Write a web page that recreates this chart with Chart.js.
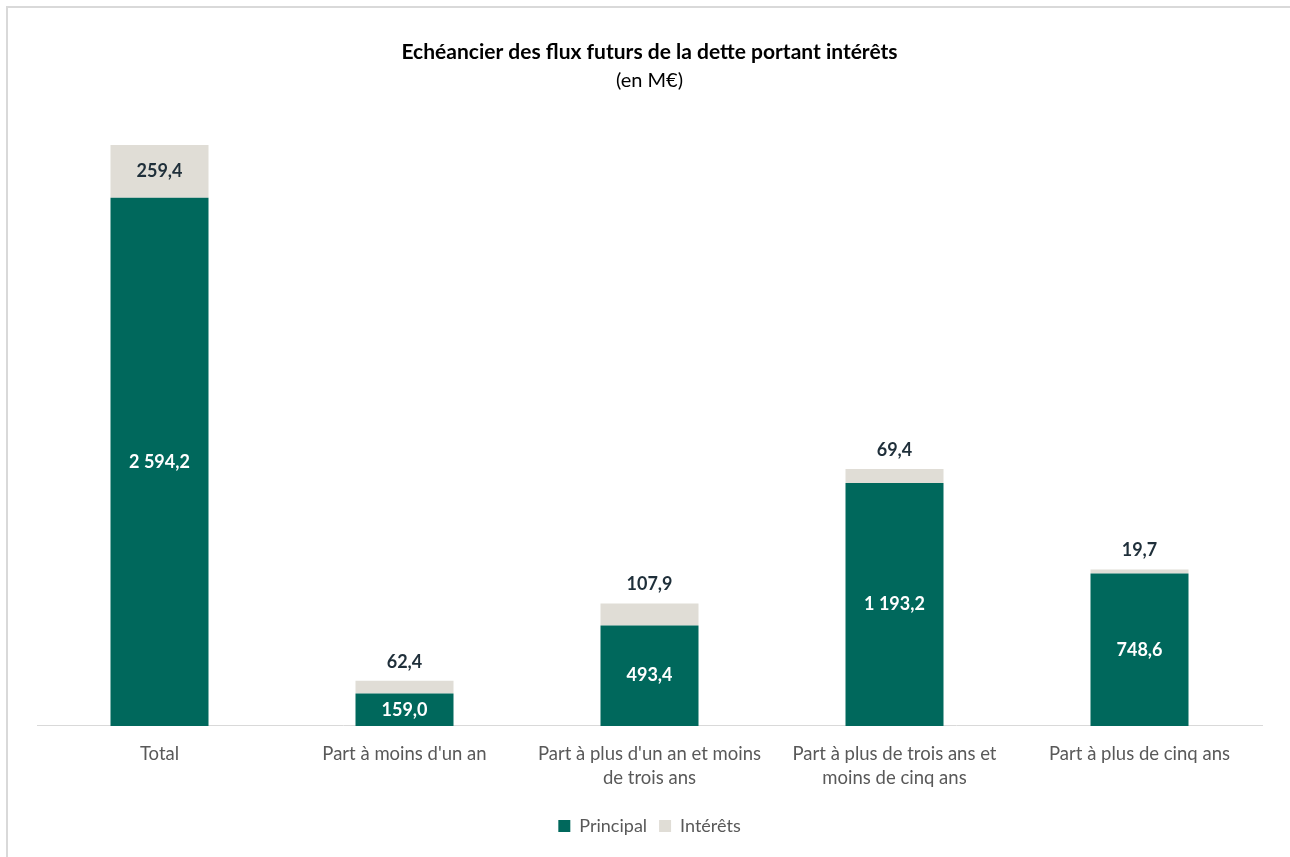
<!DOCTYPE html>
<html>
<head>
<meta charset="utf-8">
<script src="https://cdn.jsdelivr.net/npm/chart.js@4"></script>
<style>
  html, body { margin: 0; padding: 0; background: #fff; }
  #frame {
    position: absolute; left: 6px; top: 6px; width: 1300px; height: 870px;
    border-left: 2px solid #d9d9d9; border-top: 2px solid #d9d9d9;
  }
  #wrap { position: absolute; left: 0; top: 0; width: 1290px; height: 857px; }
</style>
</head>
<body>
<div id="frame"></div>
<div id="wrap"><canvas id="debtChart"></canvas></div>
<script>
// data (M€)
const categories = [
  'Total',
  "Part à moins d'un an",
  ["Part à plus d'un an et moins", 'de trois ans'],
  ['Part à plus de trois ans et', 'moins de cinq ans'],
  'Part à plus de cinq ans'
];
const principal = [2594.2, 159.0, 493.4, 1193.2, 748.6];
const interets = [259.4, 62.4, 107.9, 69.4, 19.7];

const FONT = 'Lato, "Open Sans", sans-serif';

// 2594.2 -> "2 594,2"
const fmt = (v) => {
  const parts = v.toFixed(1).split('.');
  parts[0] = parts[0].replace(/\B(?=(\d{3})+(?!\d))/g, ' ');
  return parts.join(',');
};

const labelPlugin = {
  id: 'barLabels',
  afterDatasetsDraw(chart) {
    const ctx = chart.ctx;
    ctx.save();
    ctx.font = 'bold 18px ' + FONT;
    ctx.textAlign = 'center';
    ctx.textBaseline = 'middle';
    chart.data.datasets.forEach((ds, i) => {
      const meta = chart.getDatasetMeta(i);
      meta.data.forEach((bar, j) => {
        const v = ds.data[j];
        const h = bar.base - bar.y;
        if (i === 0) {
          ctx.fillStyle = '#ffffff';
          ctx.fillText(fmt(v), bar.x, bar.y + h / 2);
        } else {
          ctx.fillStyle = '#1f2f3a';
          if (h > 40) {
            ctx.fillText(fmt(v), bar.x, bar.y + h / 2);
          } else {
            ctx.fillText(fmt(v), bar.x, bar.y - 19);
          }
        }
      });
    });
    ctx.restore();
  }
};

new Chart(document.getElementById('debtChart'), {
  type: 'bar',
  data: {
    labels: categories,
    datasets: [
      {
        label: 'Principal',
        data: principal,
        backgroundColor: '#00685c',
        categoryPercentage: 0.8,
        barPercentage: 0.5
      },
      {
        label: 'Intérêts',
        data: interets,
        backgroundColor: '#e0ddd6',
        categoryPercentage: 0.8,
        barPercentage: 0.5
      }
    ]
  },
  options: {
    responsive: true,
    maintainAspectRatio: false,
    animation: false,
    layout: { padding: { left: 37, right: 28, top: 40, bottom: 12 } },
    scales: {
      x: {
        stacked: true,
        grid: { display: false },
        border: { display: true, color: '#d9d9d9', width: 1 },
        ticks: { color: '#595959', font: { family: FONT, size: 18.5, lineHeight: 1.3 }, padding: 8, maxRotation: 0 },
        afterFit: (scale) => { scale.height += 7; }
      },
      y: {
        stacked: true,
        display: false,
        min: 0,
        max: 3000
      }
    },
    plugins: {
      title: {
        display: true,
        text: 'Echéancier des flux futurs de la dette portant intérêts',
        color: '#000000',
        font: { family: FONT, size: 21, weight: 'bold' },
        padding: { top: 0, bottom: 3 }
      },
      subtitle: {
        display: true,
        text: '(en M€)',
        color: '#000000',
        font: { family: FONT, size: 20 },
        padding: { bottom: 23 }
      },
      legend: {
        position: 'bottom',
        labels: {
          color: '#595959',
          font: { family: FONT, size: 18 },
          boxWidth: 12,
          boxHeight: 12,
          padding: 12
        }
      },
      tooltip: { enabled: false }
    }
  },
  plugins: [labelPlugin]
});
</script>
</body>
</html>
